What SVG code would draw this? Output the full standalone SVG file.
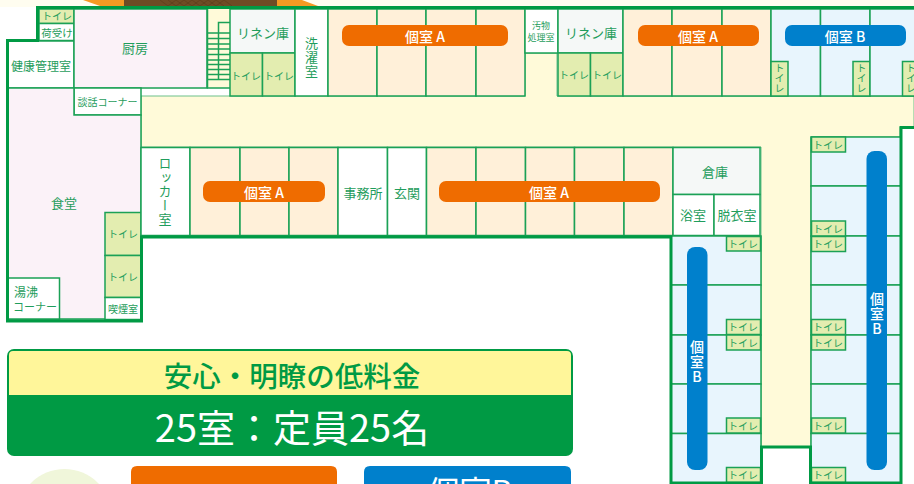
<svg xmlns="http://www.w3.org/2000/svg" width="914" height="484" viewBox="0 0 914 484">
<style>
text{font-family:"Noto Sans CJK JP","Noto Sans",sans-serif;text-anchor:middle;dominant-baseline:central;fill:#1f9d5c;transform:translateY(-1px)}
.c{stroke:#1ba156;stroke-width:1.5}
.w{fill:#fff}.a{fill:#fff0d9}.b{fill:#e8f5fd}.t{fill:#e3edb0}.p{fill:#fbf2f8}.g{fill:#f5f8f7}
.s{font-size:10px}.m{font-size:12px}.l{font-size:13px}
.v{writing-mode:vertical-rl;text-orientation:upright;font-size:10px}
.pill{fill:#ef6c00}.pb{fill:#0080cc}
.pt{fill:#fff;font-size:14px;font-weight:500}
.stair{stroke:#1ba156;stroke-width:1.5;fill:none}
</style>
<rect width="914" height="484" fill="#fff"/>
<rect width="914" height="7" fill="#fffdf0"/>
<g id="roof">
<path d="M83 0L100 6H318L302 0Z" fill="#f59a23"/>
<rect x="124" y="0" width="153" height="6" fill="#6e4c25"/>
<path d="M160 0L168 6L176 0L184 6L192 0L200 6L208 0L216 6L224 0L232 6M168 0L176 6L184 0L192 6L200 0L208 6L216 0L224 6" fill="none" stroke="#5a3d1c" stroke-width=".6"/>
</g>
<g id="corridor"><path d="M141 96H525V53H557V96H914V127H900V137H811V447H761V147H141Z" fill="#fffad9" stroke="#6cc08a" stroke-width="1"/></g>
<g id="room-toilet-top"><rect class="c t" x="39" y="9" width="35" height="14.500"/><text class="s" x="57" y="16">トイレ</text></g>
<g id="room-nive"><rect class="c w" x="39" y="23.500" width="35" height="17"/><text class="s" x="57" y="33.500" style="font-size:10.500px">荷受け</text></g>
<g id="room-kenko"><rect class="c w" x="8" y="41" width="66" height="47"/><text class="m" x="41" y="66.500">健康管理室</text></g>
<g id="room-kitchen"><rect class="c p" x="74" y="9" width="133" height="79"/><text class="l" x="135" y="48">厨房</text></g>
<g id="room-stairs"><rect x="207" y="9" width="23" height="79" fill="#fffad9"/><path class="stair" d="M207.500 9V88H230M218.500 79.500V22.500H230M207 33H230M207 38.500H230M207 44H230M207 49H230M207 54.500H230M207 60H230M207 64.500H230M207 69.500H230M207 74.500H230M207 79.500H230"/></g>
<g id="room-linen1"><rect class="c g" x="230" y="9" width="65" height="44"/><text class="l" x="263" y="33.500">リネン庫</text></g>
<g id="room-t1"><rect class="c t" x="230" y="53" width="32.500" height="43"/><text class="s" x="246" y="76">トイレ</text></g>
<g id="room-t2"><rect class="c t" x="262.500" y="53" width="32.500" height="43"/><text class="s" x="279" y="76">トイレ</text></g>
<g id="room-laundry"><rect class="c w" x="295" y="9" width="33" height="87"/><text class="l" x="311.500" y="43">洗<tspan x="311.500" dy="14">濯</tspan><tspan x="311.500" dy="14">室</tspan></text></g>
<g id="room-a1"><rect class="c a" x="328" y="9" width="49" height="87"/></g>
<g id="room-a2"><rect class="c a" x="377" y="9" width="49" height="87"/></g>
<g id="room-a3"><rect class="c a" x="426" y="9" width="50" height="87"/></g>
<g id="room-a4"><rect class="c a" x="476" y="9" width="49" height="87"/></g>
<g id="room-soiled"><rect class="c w" x="525" y="9" width="33" height="44"/><text x="541" y="26" style="font-size:9px">汚物<tspan x="541" dy="12">処理室</tspan></text></g>
<g id="room-linen2"><rect class="c g" x="558" y="9" width="65" height="44"/><text class="l" x="591" y="33.500">リネン庫</text></g>
<g id="room-t3"><rect class="c t" x="558" y="53" width="32.500" height="43"/><text class="s" x="574" y="75.500">トイレ</text></g>
<g id="room-t4"><rect class="c t" x="590.500" y="53" width="32.500" height="43"/><text class="s" x="607" y="75.500">トイレ</text></g>
<g id="room-a5"><rect class="c a" x="623" y="9" width="49" height="87"/></g>
<g id="room-a6"><rect class="c a" x="672" y="9" width="50" height="87"/></g>
<g id="room-a7"><rect class="c a" x="722" y="9" width="49" height="87"/></g>
<g id="room-b1"><rect class="c b" x="771" y="9" width="49.500" height="87"/><rect class="c t" x="771" y="61.500" width="17" height="34.500"/><text class="v" x="779.500" y="79.500">トイレ</text></g>
<g id="room-b2"><rect class="c b" x="820.500" y="9" width="49.500" height="87"/><rect class="c t" x="853" y="61.500" width="17" height="34.500"/><text class="v" x="861.500" y="79.500">トイレ</text></g>
<g id="room-b3"><rect class="c b" x="870" y="9" width="50" height="87"/><rect class="c t" x="902.500" y="61.500" width="17" height="34.500"/><text class="v" x="911" y="79.500">トイレ</text></g>
<g id="room-talk"><rect class="c w" x="74" y="88" width="67" height="27"/><text class="s" x="107.500" y="102">談話コーナー</text></g>
<g id="room-dining"><path class="c p" d="M8 88H74V115H141V237H141V319H8Z"/><text class="l" x="64" y="203">食堂</text></g>
<g id="room-t5"><rect class="c t" x="105" y="212.500" width="36" height="43"/><text class="s" x="123" y="234.500">トイレ</text></g>
<g id="room-t6"><rect class="c t" x="105" y="255.500" width="36" height="42"/><text class="s" x="123" y="277.500">トイレ</text></g>
<g id="room-smoke"><rect class="c w" x="105" y="297.500" width="36" height="22"/><text class="s" x="123" y="309.500">喫煙室</text></g>
<g id="room-yuwakashi"><rect class="c w" x="8" y="278" width="51.500" height="41"/><text class="m" x="26" y="292.500">湯沸</text><text class="s" x="35" y="307" style="font-size:11px">コーナー</text></g>
<g id="room-locker"><rect class="c w" x="141" y="147.500" width="49" height="88"/><text class="l" x="165" y="193" style="writing-mode:vertical-rl;text-orientation:upright;letter-spacing:1px">ロッカー室</text></g>
<g id="room-a8"><rect class="c a" x="190" y="147.500" width="50" height="88"/></g>
<g id="room-a9"><rect class="c a" x="240" y="147.500" width="49" height="88"/></g>
<g id="room-a10"><rect class="c a" x="289" y="147.500" width="49" height="88"/></g>
<g id="room-office"><rect class="c w" x="338" y="147.500" width="49.500" height="88"/><text class="l" x="363" y="193">事務所</text></g>
<g id="room-entrance"><rect class="c w" x="387.500" y="147.500" width="39" height="88"/><text class="l" x="407" y="193">玄関</text></g>
<g id="room-a11"><rect class="c a" x="426.500" y="147.500" width="49.500" height="88"/></g>
<g id="room-a12"><rect class="c a" x="476" y="147.500" width="49.500" height="88"/></g>
<g id="room-a13"><rect class="c a" x="525.500" y="147.500" width="49" height="88"/></g>
<g id="room-a14"><rect class="c a" x="574.500" y="147.500" width="49.500" height="88"/></g>
<g id="room-a15"><rect class="c a" x="624" y="147.500" width="49" height="88"/></g>
<g id="room-storage"><rect class="c g" x="673" y="147.500" width="87" height="47"/><text class="l" x="715" y="172">倉庫</text></g>
<g id="room-bath"><rect class="c w" x="673" y="194.500" width="41" height="41"/><text class="l" x="693" y="215">浴室</text></g>
<g id="room-dress"><rect class="c w" x="714" y="194.500" width="46" height="41"/><text class="l" x="737" y="215">脱衣室</text></g>
<g id="wing-left"><rect class="c b" x="671" y="236" width="90" height="49"/><rect class="c b" x="671" y="285" width="90" height="50"/><rect class="c b" x="671" y="335" width="90" height="49"/><rect class="c b" x="671" y="384" width="90" height="49.500"/><rect class="c b" x="671" y="433.500" width="90" height="49.500"/>
<rect class="c t" x="726.500" y="236.500" width="34" height="14.500"/><text class="s" x="743" y="244">トイレ</text>
<rect class="c t" x="726.500" y="319.500" width="34" height="15"/><text class="s" x="743" y="327">トイレ</text>
<rect class="c t" x="726.500" y="335" width="34" height="15"/><text class="s" x="743" y="343">トイレ</text>
<rect class="c t" x="726.500" y="418" width="34" height="15"/><text class="s" x="743" y="426">トイレ</text>
<rect class="c t" x="726.500" y="467.500" width="34" height="15"/><text class="s" x="743" y="475">トイレ</text></g>
<g id="wing-right"><rect class="c b" x="811" y="137" width="90" height="49"/><rect class="c b" x="811" y="186" width="90" height="50"/><rect class="c b" x="811" y="236" width="90" height="49"/><rect class="c b" x="811" y="285" width="90" height="50"/><rect class="c b" x="811" y="335" width="90" height="49"/><rect class="c b" x="811" y="384" width="90" height="49.500"/><rect class="c b" x="811" y="433.500" width="90" height="49.500"/>
<rect class="c t" x="811.500" y="137" width="34" height="15"/><text class="s" x="828" y="145">トイレ</text>
<rect class="c t" x="811.500" y="221" width="34" height="15"/><text class="s" x="828" y="229">トイレ</text>
<rect class="c t" x="811.500" y="236.500" width="34" height="15"/><text class="s" x="828" y="244">トイレ</text>
<rect class="c t" x="811.500" y="319.500" width="34" height="15"/><text class="s" x="828" y="327">トイレ</text>
<rect class="c t" x="811.500" y="335" width="34" height="15"/><text class="s" x="828" y="343">トイレ</text>
<rect class="c t" x="811.500" y="418" width="34" height="15"/><text class="s" x="828" y="426">トイレ</text>
<rect class="c t" x="811.500" y="467.500" width="34" height="15"/><text class="s" x="828" y="475">トイレ</text></g>
<g id="walls"><path fill="none" stroke="#009a44" stroke-width="3" d="M914 7.500H37.500V40.500H7.500V321H141.500V237H671V483H761.500V447H810.500V483H901V127.500H914"/></g>
<g id="pill-a1"><rect class="pill" x="342" y="25" width="166" height="21" rx="7"/><text class="pt" x="425" y="36.500">個室 A</text></g>
<g id="pill-a2"><rect class="pill" x="638" y="25" width="121" height="21" rx="7"/><text class="pt" x="698" y="36.500">個室 A</text></g>
<g id="pill-b1"><rect class="pb" x="785" y="25" width="121" height="21" rx="7"/><text class="pt" x="845" y="36.500">個室 B</text></g>
<g id="pill-a3"><rect class="pill" x="203" y="181" width="122" height="21" rx="7"/><text class="pt" x="264" y="192.500">個室 A</text></g>
<g id="pill-a4"><rect class="pill" x="439" y="181" width="221" height="21" rx="7"/><text class="pt" x="549" y="192.500">個室 A</text></g>
<g id="pill-b2"><rect class="pb" x="687" y="247" width="20.500" height="223" rx="8"/><text class="pt" x="697" y="347">個<tspan x="697" dy="15">室</tspan><tspan x="697" dy="15">B</tspan></text></g>
<g id="pill-b3"><rect class="pb" x="866.500" y="151" width="20.500" height="319" rx="8"/><text class="pt" x="877" y="299">個<tspan x="877" dy="15">室</tspan><tspan x="877" dy="15">B</tspan></text></g>
<g id="banner"><rect x="7" y="349" width="566" height="107" rx="7" fill="#009a44"/><path d="M9 395V355Q9 351 13 351H567Q571 351 571 355V395Z" fill="#fff69a"/>
<text x="292" y="375" style="font-size:28.500px;font-weight:500;fill:#009a44">安心・明瞭の低料金</text>
<text x="292" y="426" style="font-size:38px;fill:#fff">25室：定員25名</text></g>
<g id="legend"><circle cx="64.500" cy="516" r="47" fill="#f0f6da"/>
<path d="M131 484V472Q131 466 137 466H331Q337 466 337 472V484Z" fill="#ef6c00"/>
<path d="M364 484V472Q364 466 370 466H565Q571 466 571 472V484Z" fill="#0080cc"/>
<text x="470" y="491" style="font-size:32px;fill:#fff">個室B</text></g>
</svg>
